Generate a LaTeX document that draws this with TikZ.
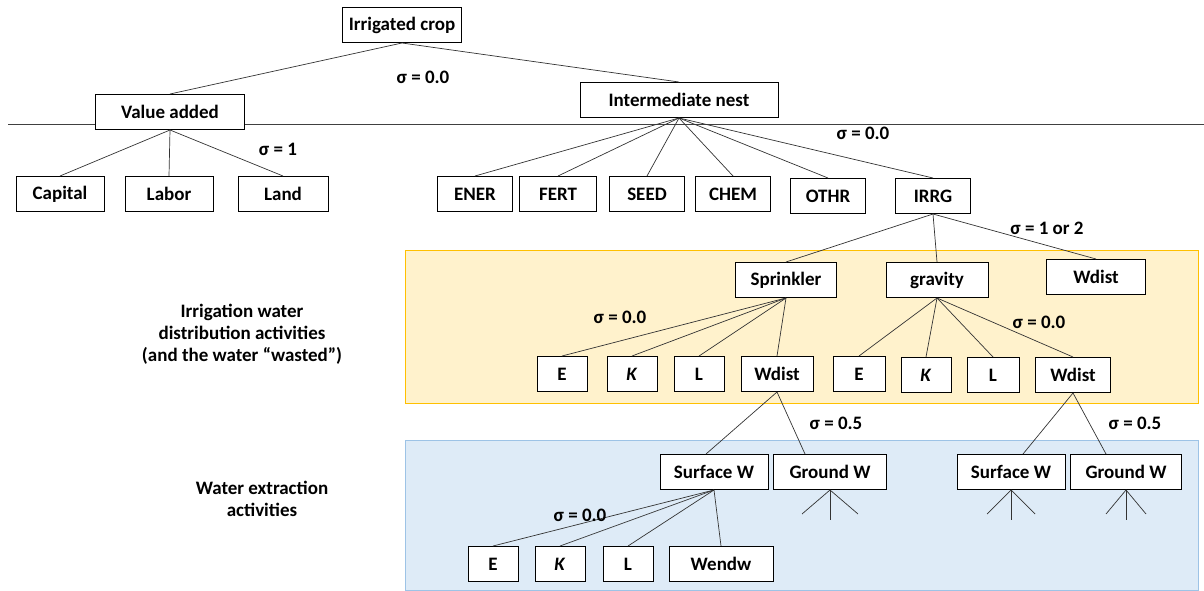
\documentclass[tikz,border=0pt]{standalone}
\usepackage{fontspec}
\setmainfont{Carlito}

\definecolor{distfill}{HTML}{FFF2CC}
\definecolor{distline}{HTML}{FFC000}
\definecolor{extrfill}{HTML}{DEEBF7}
\definecolor{extrline}{HTML}{9DC3E6}

\tikzset{
  box/.style={draw, fill=white, line width=1pt, minimum height=35pt,
    inner sep=2pt, font=\fontsize{19}{22}\selectfont\bfseries},
  sig/.style={font=\fontsize{19}{22}\selectfont\bfseries},
  note/.style={align=center, font=\fontsize{19}{22}\selectfont\bfseries},
  link/.style={line width=0.7pt, draw=black!80}
}

\begin{document}
\begin{tikzpicture}[x=1pt,y=-1pt]
\useasboundingbox (0,0) rectangle (1204,591);

%bands
\draw[distline, fill=distfill, line width=1pt] (405,250) rectangle (1198,403);
\draw[extrline, fill=extrfill, line width=1pt] (405,440) rectangle (1198,590);
\draw[line width=0.8pt, black!75] (8,124) -- (1204,124);

%top nest
\node[box, minimum width=119pt] (Crop) at (402,25) {Irrigated crop};
\node[box, minimum width=149pt] (VA) at (170,112) {Value added};
\node[box, minimum width=198pt] (Inter) at (679,100) {Intermediate nest};

\node[box, minimum width=88pt] (Cap) at (60,194) {Capital};
\node[box, minimum width=88pt] (Lab) at (169,194) {Labor};
\node[box, minimum width=90pt] (Land) at (283,194) {Land};

\node[box, minimum width=75pt] (ENER) at (475,194) {ENER};
\node[box, minimum width=77pt] (FERT) at (558,194) {FERT};
\node[box, minimum width=75pt] (SEED) at (647,194) {SEED};
\node[box, minimum width=75pt] (CHEM) at (733,194) {CHEM};
\node[box, minimum width=75pt] (OTHR) at (828,196) {OTHR};
\node[box, minimum width=75pt] (IRRG) at (933,196) {IRRG};

%distribution
\node[box, minimum width=101pt] (Spr) at (786,280) {Sprinkler};
\node[box, minimum width=102pt] (Grav) at (937,280) {gravity};
\node[box, minimum width=99pt] (WdTop) at (1096,277) {Wdist};

\node[box, minimum width=50pt] (SprE) at (562,374) {E};
\node[box, minimum width=50pt] (SprK) at (632,374) {\textit{K}};
\node[box, minimum width=50pt] (SprL) at (699,374) {L};
\node[box, minimum width=72pt] (SprW) at (777,374) {Wdist};
\node[box, minimum width=52pt] (GravE) at (859,374) {E};
\node[box, minimum width=50pt] (GravK) at (926,375) {\textit{K}};
\node[box, minimum width=52pt] (GravL) at (993,375) {L};
\node[box, minimum width=75pt] (GravW) at (1073,375) {Wdist};

%extraction
\node[box, minimum width=108pt] (SW1) at (714,472) {Surface W};
\node[box, minimum width=113pt] (GW1) at (830,472) {Ground W};
\node[box, minimum width=108pt] (SW2) at (1011,472) {Surface W};
\node[box, minimum width=111pt] (GW2) at (1126,472) {Ground W};

\node[box, minimum width=50pt] (ExE) at (493,564) {E};
\node[box, minimum width=50pt] (ExK) at (560,564) {\textit{K}};
\node[box, minimum width=50pt] (ExL) at (628,564) {L};
\node[box, minimum width=104pt] (Wendw) at (721,564) {Wendw};

%links
\foreach \c in {VA,Inter} \draw[link] (Crop.south) -- (\c.north);
\foreach \c in {Cap,Lab,Land} \draw[link] (VA.south) -- (\c.north);
\foreach \c in {ENER,FERT,SEED,CHEM,OTHR,IRRG} \draw[link] (Inter.south) -- (\c.north);
\foreach \c in {Spr,Grav,WdTop} \draw[link] (IRRG.south) -- (\c.north);
\foreach \c in {SprE,SprK,SprL,SprW} \draw[link] (Spr.south) -- (\c.north);
\foreach \c in {GravE,GravK,GravL,GravW} \draw[link] (Grav.south) -- (\c.north);
\draw[link] (SprW.south) -- ([xshift=-8pt]SW1.north);
\draw[link] (SprW.south) -- ([xshift=-25pt]GW1.north);
\draw[link] (GravW.south) -- ([xshift=12pt]SW2.north);
\draw[link] (GravW.south) -- ([xshift=-20pt]GW2.north);
\foreach \c in {ExE,ExK,ExL,Wendw} \draw[link] (SW1.south) -- (\c.north);

%open branches
\foreach \n/\s in {GW1/28,SW2/24,GW2/20}{
  \coordinate (\n-l) at ([shift={(-\s,24)}]\n.south);
  \coordinate (\n-m) at ([shift={(0,30)}]\n.south);
  \coordinate (\n-r) at ([shift={(\s,24)}]\n.south);
  \draw[link] (\n-l) -- (\n.south) -- (\n-r);
  \draw[link] (\n.south) -- (\n-m);
}

%elasticities
\node[sig] (s1) at (423,77) {σ = 0.0};
\node[sig] (s2) at (278,149) {σ = 1};
\node[sig] (s3) at (863,133) {σ = 0.0};
\node[sig] (s4) at (1047,228) {σ = 1 or 2};
\node[sig] (s5) at (620,317) {σ = 0.0};
\node[sig] (s6) at (1039,322) {σ = 0.0};
\node[sig] (s7) at (836,423) {σ = 0.5};
\node[sig] (s8) at (1135,423) {σ = 0.5};
\node[sig] (s9) at (580,515) {σ = 0.0};

\node[note] (DistNote) at (242,334) {Irrigation water\\distribution activities\\(and the water “wasted”)};
\node[note] (ExtrNote) at (262,499) {Water extraction\\activities};
\end{tikzpicture}
\end{document}
